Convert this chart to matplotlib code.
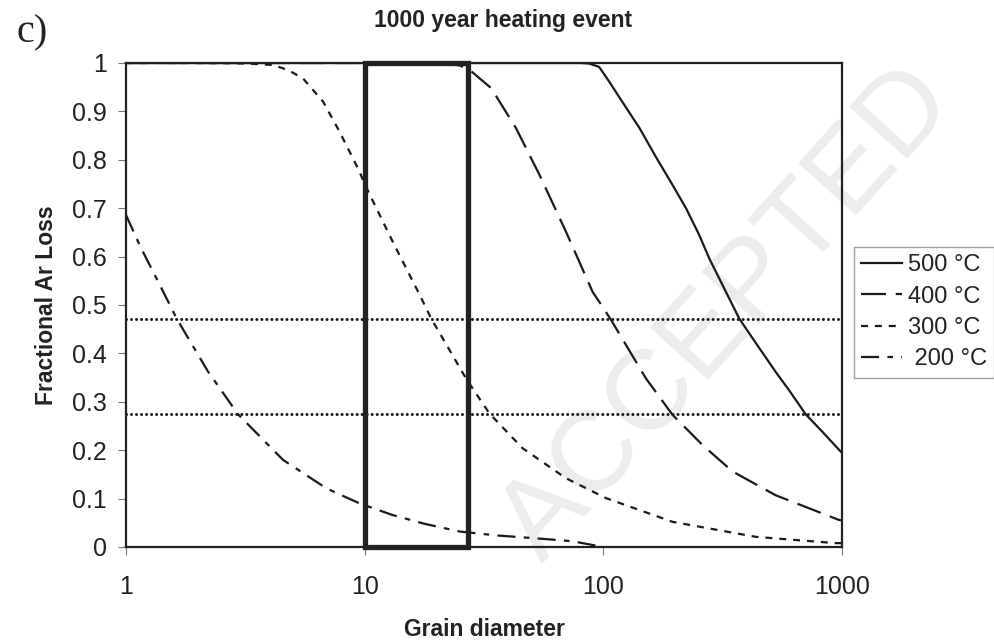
import matplotlib as mpl
mpl.use('Agg')
import matplotlib.pyplot as plt
from matplotlib.patches import Rectangle

plt.rcParams['font.family'] = ['Liberation Sans', 'DejaVu Sans']
plt.rcParams['lines.scale_dashes'] = False

# curvas (diametro de grano, perdida fraccional)
x500 = [1, 80, 87, 96, 106, 120, 142, 166, 195, 222, 252, 278, 316, 371, 436, 527, 600, 705, 828, 988, 1000]
y500 = [1.0, 1.0, 0.999, 0.992, 0.961, 0.920, 0.865, 0.806, 0.748, 0.700, 0.645, 0.596, 0.541, 0.472, 0.421, 0.362, 0.324, 0.274, 0.238, 0.197, 0.195]

x400 = [1, 20, 25, 27.5, 33.9, 43.1, 54, 69.8, 90.2, 100, 109, 151, 195, 260, 348, 527, 970, 1000]
y400 = [1.0, 1.0, 0.995, 0.986, 0.948, 0.865, 0.769, 0.651, 0.527, 0.494, 0.465, 0.348, 0.273, 0.211, 0.156, 0.107, 0.056, 0.055]

x300 = [1, 2, 3.16, 4.13, 4.8, 5.52, 6.70, 7.85, 9.38, 10.2, 13.1, 17.0, 19.0, 26.6, 33.3, 45.9, 69.8, 102.6, 195, 435, 940, 1000]
y300 = [1.0, 1.0, 0.999, 0.996, 0.985, 0.968, 0.920, 0.858, 0.782, 0.741, 0.631, 0.521, 0.472, 0.348, 0.276, 0.204, 0.142, 0.101, 0.052, 0.021, 0.008, 0.008]

x200 = [1, 1.15, 1.41, 1.63, 2.21, 2.95, 4.55, 6.92, 9.53, 13.1, 17.8, 25, 35.5, 52, 74, 100]
y200 = [0.686, 0.62, 0.534, 0.472, 0.362, 0.274, 0.180, 0.121, 0.090, 0.066, 0.048, 0.032, 0.024, 0.018, 0.012, 0.0]

niveles = [0.472, 0.274]
caja_x = [10, 27]
etiquetas = ['500 °C', '400 °C', '300 °C', ' 200 °C']

fig = plt.figure(figsize=(9.94, 6.4), dpi=100)
ax = fig.add_axes([126/994, 93/640, 716/994, 484/640])
ax.set_zorder(1)
ax.patch.set_alpha(0)

# marca de agua
fig.text(728/994, 1 - 315/640, 'ACCEPTED', fontsize=82, color='#ececec',
         rotation=48, ha='center', va='center', zorder=0.5)

lw = 1.6
ax.plot(x500, y500, color='#1a1a1a', lw=lw, label=etiquetas[0])
ax.plot(x400, y400, color='#1a1a1a', lw=lw, dashes=(18, 7), label=etiquetas[1])
ax.plot(x300, y300, color='#1a1a1a', lw=lw, dashes=(5, 5), label=etiquetas[2])
ax.plot(x200, y200, color='#1a1a1a', lw=lw, dashes=(13, 6, 4, 6), label=etiquetas[3])

for n in niveles:
    ax.plot([1, 1000], [n, n], color='#1a1a1a', lw=2.2, dashes=(0.01, 3.6),
            dash_capstyle='round')

ax.add_patch(Rectangle((caja_x[0], 0), caja_x[1] - caja_x[0], 1, fill=False,
                       lw=3.8, edgecolor='#222222', clip_on=False, zorder=5))

ax.set_xscale('log')
ax.set_xlim(1, 1000)
ax.set_ylim(0, 1)
ax.set_xticks([1, 10, 100, 1000])
ax.set_xticklabels(['1', '10', '100', '1000'])
ax.minorticks_off()
ax.set_yticks([i / 10 for i in range(11)])
ax.set_yticklabels(['0'] + ['0.%d' % i for i in range(1, 10)] + ['1'])
ax.tick_params(labelsize=18, length=6, width=0.8, color='#777777', labelcolor='#222222')
ax.tick_params(axis='x', pad=14)
ax.tick_params(axis='y', pad=8)
for s in ax.spines.values():
    s.set_linewidth(1.6)
    s.set_color('#222222')

ax.set_xlabel('Grain diameter', fontsize=16.5, fontweight='bold', color='#222222', labelpad=14)
ax.set_ylabel('Fractional Ar Loss', fontsize=16.5, fontweight='bold', color='#222222', labelpad=10)

fig.text(503/994, 1 - 20/640, '1000 year heating event', fontsize=16.5,
         fontweight='bold', ha='center', va='center', color='#222222')
fig.text(17/994, 1 - 33/640, 'c)', fontsize=29, family='Liberation Serif',
         ha='left', va='center', color='#222222')

leg = ax.legend(loc='upper left', bbox_to_anchor=(854/994, 1 - 247/640),
                bbox_transform=fig.transFigure, borderaxespad=0, fontsize=17,
                frameon=True, fancybox=False, edgecolor='#888888',
                handlelength=1.75, handletextpad=0.25, labelspacing=0.4,
                borderpad=0.3)
leg.get_frame().set_linewidth(1.0)
for t in leg.get_texts():
    t.set_color('#222222')

fig.savefig('out.png', dpi=100)
